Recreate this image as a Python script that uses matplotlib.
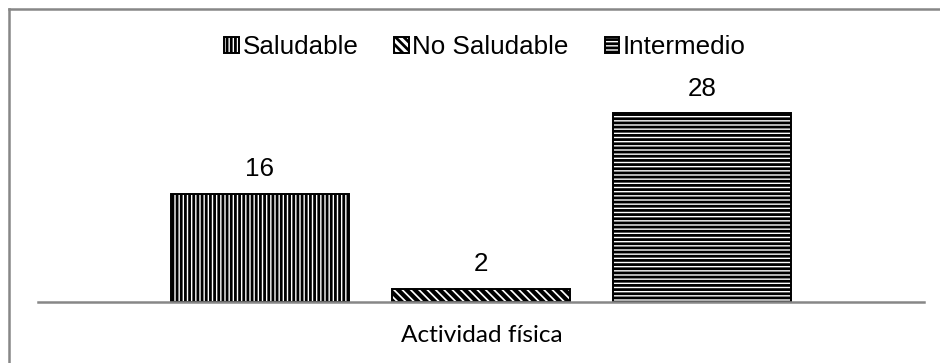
import matplotlib
matplotlib.use("Agg")
import matplotlib.pyplot as plt
from matplotlib.lines import Line2D

series = ["Saludable", "No Saludable", "Intermedio"]
values = [16, 2, 28]
category = "Actividad física"
hatches = ["||||", "\\\\\\\\", "----"]

W, H = 940, 363
fig = plt.figure(figsize=(W / 100, H / 100), dpi=100)
plt.rcParams["hatch.linewidth"] = 2.0
plt.rcParams["hatch.color"] = "#1a1a1a"

# outer chart frame (only left & top visible in the crop)
fig.lines.append(Line2D([9 / W, 9 / W], [-0.05, 1 - 9 / H], transform=fig.transFigure,
                        color="#878787", linewidth=1.8))
fig.lines.append(Line2D([9 / W, 1.05], [1 - 9 / H, 1 - 9 / H], transform=fig.transFigure,
                        color="#878787", linewidth=1.8))

ax = fig.add_axes([38 / W, 61 / H, 886 / W, 202.5 / H])
x = list(range(len(values)))
bars = ax.bar(x, values, width=0.805, color="white", edgecolor="black", linewidth=1.4)
for b, h, s in zip(bars, hatches, series):
    b.set_hatch(h)
    b.set_label(s)
if hasattr(bars[1], "set_hatch_linewidth"):
    bars[1].set_hatch_linewidth(3.0)

ax.set_xlim(-1.0045, 3.0045)
ax.set_ylim(0, 30)
for sp in ["left", "right", "top"]:
    ax.spines[sp].set_visible(False)
ax.spines["bottom"].set_color("#878787")
ax.spines["bottom"].set_linewidth(1.8)
ax.set_xticks([])
ax.set_yticks([])

ax.bar_label(bars, labels=[str(v) for v in values], padding=9,
             fontsize=18.7, family="Liberation Sans")

fig.text(482 / W, 1 - 336 / H, category, ha="center", va="center",
         fontsize=17.6, family="Lato")

leg = ax.legend(handles=list(bars), labels=series, loc="center",
                bbox_to_anchor=(485 / W, 1 - 47 / H), bbox_transform=fig.transFigure,
                ncol=3, frameon=False, prop={"family": "Liberation Sans", "size": 18.7},
                handlelength=0.55, handleheight=0.55, handletextpad=0.15,
                columnspacing=1.38, borderpad=0)

fig.savefig("out.png", dpi=100)
